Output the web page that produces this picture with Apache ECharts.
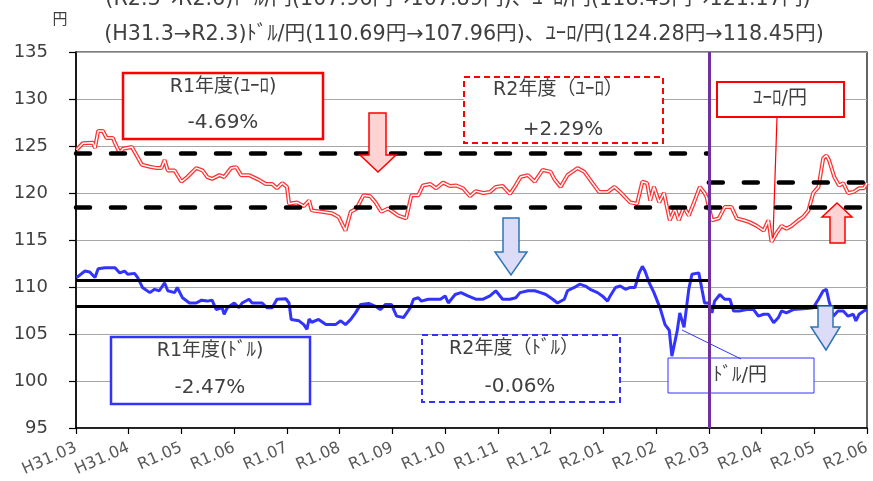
<!DOCTYPE html>
<html><head><meta charset="utf-8">
<script src="https://cdn.jsdelivr.net/npm/echarts@6/dist/echarts.min.js"></script>
<style>html,body{margin:0;padding:0;background:#fff}#c{width:873px;height:481px}</style>
</head><body><div id="c"></div>
<script>
// x positions are months since H31.03 (0 = H31.03, 15 = R2.06)
const tickLabels = ['H31.03','H31.04','R1.05','R1.06','R1.07','R1.08','R1.09','R1.10','R1.11','R1.12','R2.01','R2.02','R2.03','R2.04','R2.05','R2.06'];
const periodX = [0, 12, 15];               // H31.3, R2.3, R2.6
const usdRates = [110.69, 107.96, 107.89]; // ドル/円 at H31.3, R2.3, R2.6
const eurRates = [124.28, 118.45, 121.17]; // ユーロ/円 at H31.3, R2.3, R2.6

const eur = [[0.01,124.6],[0.13,125.3],[0.32,125.35],[0.36,124.8],[0.42,126.6],[0.51,126.6],[0.58,125.85],[0.70,125.85],[0.74,125.3],[0.83,124.25],[0.89,124.7],[1.06,124.9],[1.15,124.0],[1.25,123.0],[1.40,122.8],[1.53,122.65],[1.62,122.65],[1.68,123.5],[1.74,122.4],[1.87,122.4],[2.00,121.2],[2.11,121.7],[2.28,122.65],[2.40,122.4],[2.49,121.7],[2.58,121.5],[2.72,121.9],[2.81,121.7],[2.94,122.65],[3.04,122.75],[3.13,121.9],[3.28,121.9],[3.47,121.4],[3.60,120.95],[3.72,120.95],[3.81,120.5],[3.91,121.05],[4.00,120.65],[4.04,118.85],[4.19,119.0],[4.32,118.6],[4.42,119.2],[4.47,118.15],[4.66,118.0],[4.85,117.85],[4.98,117.45],[5.11,116.0],[5.21,118.0],[5.32,118.35],[5.45,119.75],[5.58,119.65],[5.68,119.0],[5.79,118.0],[5.92,118.35],[6.11,117.6],[6.26,117.3],[6.36,119.75],[6.49,119.75],[6.58,120.8],[6.72,120.95],[6.83,120.5],[6.96,121.1],[7.09,120.75],[7.21,120.8],[7.34,120.5],[7.47,119.65],[7.58,120.2],[7.72,120.0],[7.85,120.1],[7.96,120.65],[8.09,120.75],[8.23,119.9],[8.32,120.65],[8.43,121.7],[8.57,121.9],[8.70,121.2],[8.85,122.45],[9.00,122.25],[9.08,121.4],[9.19,120.65],[9.32,121.9],[9.51,122.65],[9.64,122.25],[9.75,121.4],[9.92,120.1],[10.08,120.1],[10.21,120.65],[10.32,120.1],[10.51,119.0],[10.64,118.85],[10.74,121.2],[10.83,121.05],[10.89,119.2],[10.96,120.65],[11.06,119.0],[11.15,120.0],[11.26,117.1],[11.36,118.35],[11.43,117.1],[11.53,118.5],[11.62,117.6],[11.72,119.0],[11.83,120.65],[11.92,120.0],[11.96,119.55],[12.06,117.1],[12.19,117.3],[12.30,118.5],[12.43,118.5],[12.53,117.3],[12.66,117.1],[12.77,116.9],[12.91,116.5],[13.04,116.0],[13.13,117.1],[13.19,114.8],[13.28,115.7],[13.38,116.5],[13.47,116.2],[13.57,116.5],[13.70,117.1],[13.79,117.45],[13.89,118.15],[13.98,120.0],[14.08,120.65],[14.17,123.7],[14.23,124.0],[14.28,123.5],[14.38,121.7],[14.47,120.8],[14.55,121.05],[14.64,120.0],[14.74,120.1],[14.85,120.5],[14.94,120.5],[15.0,121.05]];

const usd = [[0.01,111.0],[0.17,111.7],[0.26,111.6],[0.36,111.0],[0.42,111.95],[0.55,112.05],[0.74,112.05],[0.83,111.5],[0.92,111.7],[0.98,111.35],[1.11,111.45],[1.17,111.0],[1.26,109.95],[1.40,109.4],[1.49,109.75],[1.58,109.6],[1.68,110.45],[1.74,109.6],[1.87,109.4],[1.92,109.95],[2.02,108.85],[2.15,108.3],[2.28,108.3],[2.38,108.6],[2.49,108.5],[2.58,108.6],[2.66,107.6],[2.77,107.8],[2.81,107.1],[2.87,107.8],[3.00,108.3],[3.09,107.8],[3.15,108.3],[3.28,108.7],[3.34,108.3],[3.53,108.3],[3.62,107.8],[3.72,107.8],[3.81,108.7],[3.98,108.75],[4.04,108.3],[4.08,106.55],[4.23,106.4],[4.32,106.0],[4.38,105.5],[4.42,106.6],[4.47,106.25],[4.60,106.55],[4.74,106.0],[4.92,106.0],[5.02,106.4],[5.11,106.0],[5.21,106.55],[5.30,107.25],[5.40,108.15],[5.55,108.25],[5.68,107.95],[5.77,107.6],[5.87,108.15],[5.98,108.15],[6.08,106.9],[6.21,106.75],[6.34,107.8],[6.40,108.7],[6.49,108.85],[6.55,108.5],[6.68,108.7],[6.91,108.7],[7.00,109.05],[7.06,108.3],[7.19,109.2],[7.30,109.4],[7.43,109.05],[7.58,108.7],[7.72,108.7],[7.85,109.05],[7.96,109.6],[8.09,108.7],[8.23,108.7],[8.34,108.85],[8.42,109.4],[8.57,109.6],[8.70,109.6],[8.81,109.4],[8.91,109.2],[9.04,108.7],[9.13,108.3],[9.26,108.7],[9.32,109.6],[9.45,109.95],[9.55,110.3],[9.66,110.1],[9.75,109.75],[9.89,109.4],[9.98,109.05],[10.08,108.5],[10.13,109.05],[10.23,109.95],[10.32,110.1],[10.42,109.75],[10.51,109.95],[10.60,109.95],[10.68,111.5],[10.74,112.2],[10.79,111.7],[10.87,110.45],[10.96,109.4],[11.08,107.7],[11.17,106.0],[11.25,105.4],[11.30,102.65],[11.40,105.3],[11.45,107.25],[11.53,105.7],[11.62,109.75],[11.68,111.35],[11.81,111.5],[11.87,109.75],[11.92,108.3],[12.00,108.3],[12.06,107.25],[12.11,108.5],[12.21,109.2],[12.30,108.7],[12.40,108.7],[12.47,107.45],[12.58,107.45],[12.72,107.6],[12.85,107.6],[12.94,106.9],[13.04,107.1],[13.13,107.1],[13.23,106.2],[13.32,106.75],[13.38,107.45],[13.47,107.25],[13.60,107.6],[13.85,107.7],[13.98,107.8],[14.08,108.7],[14.17,109.6],[14.23,109.75],[14.28,108.5],[14.36,106.9],[14.45,107.45],[14.55,107.45],[14.64,106.9],[14.74,107.1],[14.79,106.4],[14.85,107.1],[14.94,107.45],[15.0,107.6]];

const titleLines = [
  '(R2.3→R2.6)ﾄﾞﾙ/円(107.96円→107.89円)、ﾕｰﾛ/円(118.45円→121.17円)',
  '(H31.3→R2.3)ﾄﾞﾙ/円(110.69円→107.96円)、ﾕｰﾛ/円(124.28円→118.45円)'
];
const boxTexts = {
  eurR1: ['R1年度(ﾕｰﾛ)', '-4.69%'],
  eurR2: ['R2年度（ﾕｰﾛ）', '+2.29%'],
  usdR1: ['R1年度(ﾄﾞﾙ)', '-2.47%'],
  usdR2: ['R2年度（ﾄﾞﾙ）', '-0.06%'],
  eurName: 'ﾕｰﾛ/円',
  usdName: 'ﾄﾞﾙ/円'
};

const JP = "'Noto Sans CJK JP', sans-serif";
const NUM = "'DejaVu Sans', 'Noto Sans CJK JP', sans-serif";
const TXT = '#404040';

function seg(x0, x1, y) { return [{coord: [x0, y]}, {coord: [x1, y]}]; }
const solidBlack = {color: '#000', width: 3, type: 'solid'};
const dashBlack = {color: '#000', width: 4.5, type: [14, 21], cap: 'round'};

function box(x, y, w, h, color, lw, dashed, z) {
  return {type: 'rect', shape: {x: x, y: y, width: w, height: h}, z: z || 1,
    style: {fill: '#fff', stroke: color, lineWidth: lw, lineDash: dashed ? [6, 4] : null}};
}
function txt(x, y, s, size, font) {
  return {type: 'text', x: x, y: y, z: 12,
    style: {text: s, fill: TXT, font: size + 'px ' + (font || NUM), textAlign: 'center', textVerticalAlign: 'middle'}};
}
function arrow(pts, fill, stroke) {
  return {type: 'polygon', shape: {points: pts}, z: 20, style: {fill: fill, stroke: stroke, lineWidth: 1.5}};
}

const chart = echarts.init(document.getElementById('c'));
chart.setOption({
  animation: false,
  grid: {left: 76, right: 2, top: 52, bottom: 53, show: true, borderColor: '#000', borderWidth: 1.2, backgroundColor: 'transparent'},
  xAxis: {
    type: 'value', min: 0, max: 15, interval: 1,
    axisLine: {lineStyle: {color: '#000', width: 1.5}},
    axisTick: {length: 6, lineStyle: {color: '#000', width: 1.2}},
    splitLine: {show: false},
    axisLabel: {rotate: 24, margin: 19, color: '#595959', fontSize: 16, fontFamily: NUM,
      formatter: v => tickLabels[Math.round(v)]}
  },
  yAxis: {
    type: 'value', min: 95, max: 135, interval: 5,
    axisLine: {show: true, lineStyle: {color: '#000', width: 1.5}},
    axisTick: {show: true, length: 7, lineStyle: {color: '#000', width: 1.2}},
    splitLine: {lineStyle: {color: '#a6a6a6', width: 1}},
    axisLabel: {margin: 28, color: TXT, fontSize: 18, fontFamily: NUM}
  },
  series: [
    {type: 'line', data: usd, symbol: 'none', z: 3, lineStyle: {color: '#3333ff', width: 3},
      markLine: {silent: true, symbol: 'none', label: {show: false}, lineStyle: solidBlack,
        data: [seg(periodX[0], periodX[1], usdRates[0]), seg(periodX[0], periodX[2], usdRates[1]), seg(periodX[1], periodX[2], usdRates[2])]}},
    {type: 'line', data: eur, symbol: 'none', z: 3, lineStyle: {color: '#ff3030', width: 4},
      markLine: {silent: true, symbol: 'none', label: {show: false}, lineStyle: dashBlack,
        data: [seg(periodX[0], periodX[1], eurRates[0]), seg(periodX[0], periodX[2], eurRates[1]), seg(periodX[1], periodX[2], eurRates[2])]}},
    {type: 'line', data: eur, symbol: 'none', z: 4, lineStyle: {color: '#ffffff', width: 1.5},
      markLine: {silent: true, symbol: 'none', label: {show: false}, lineStyle: {color: '#7030a0', width: 3, type: 'solid'},
        data: [{xAxis: periodX[1]}]}}
  ],
  graphic: [
    {type: 'text', x: 60, y: 18, style: {text: '円', fill: TXT, font: '15px ' + JP, textAlign: 'center', textVerticalAlign: 'middle'}},
    {type: 'text', x: 458, y: 0, style: {text: titleLines[0], fill: TXT, font: '20.7px ' + NUM, textAlign: 'center', textVerticalAlign: 'middle'}},
    {type: 'text', x: 464, y: 35, style: {text: titleLines[1], fill: TXT, font: '20.7px ' + NUM, textAlign: 'center', textVerticalAlign: 'middle'}},

    box(123, 73, 200, 66, '#ff0000', 2.5, false),
    txt(223, 87, boxTexts.eurR1[0], 19), txt(223, 123, boxTexts.eurR1[1], 20),
    box(464, 77, 199, 66, '#ff0000', 2, true),
    txt(558, 90, boxTexts.eurR2[0], 19), txt(563, 130, boxTexts.eurR2[1], 20),
    {type: 'line', z: 5, shape: {x1: 777, y1: 117, x2: 773, y2: 238}, style: {stroke: '#ff0000', lineWidth: 1.2}},
    box(717, 82, 127, 35, '#ff0000', 2, false, 6),
    txt(780, 99, boxTexts.eurName, 19),

    box(111, 337, 199, 67, '#3333ff', 2.5, false),
    txt(210, 351, boxTexts.usdR1[0], 19), txt(210, 388, boxTexts.usdR1[1], 20),
    box(422, 335, 198, 67, '#3333ff', 2, true),
    txt(514, 349, boxTexts.usdR2[0], 19), txt(520, 387, boxTexts.usdR2[1], 20),
    {type: 'line', z: 5, shape: {x1: 682, y1: 330, x2: 741, y2: 359}, style: {stroke: '#3333ff', lineWidth: 1}},
    box(668, 358, 146, 35, '#3333ff', 1, false, 1),
    txt(740, 376, boxTexts.usdName, 19),

    arrow([[369,113],[386,113],[386,155],[396,155],[378,172],[360,155],[369,155]], '#fdd3d3', '#ff0000'),
    arrow([[503,218],[519,218],[519,252],[527,252],[511,275],[495,252],[503,252]], '#dcdcf8', '#2e75b6'),
    arrow([[818,306],[833,306],[833,327],[840,327],[826,350],[811,327],[818,327]], '#dcdcf8', '#2e75b6'),
    arrow([[830,243],[845,243],[845,217],[852,217],[837,203],[822,217],[830,217]], '#fdd3d3', '#ff0000')
  ]
});
</script></body></html>
